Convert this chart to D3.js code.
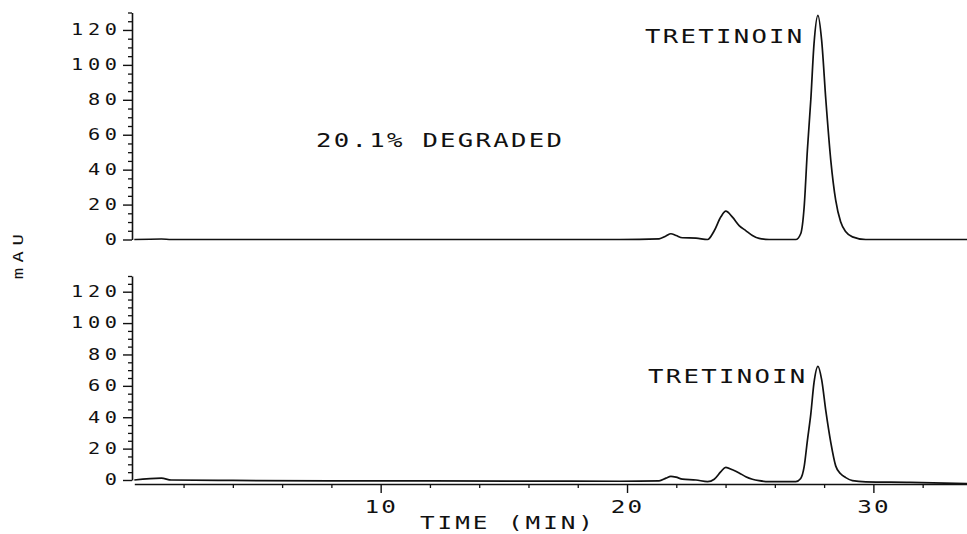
<!DOCTYPE html>
<html>
<head>
<meta charset="utf-8">
<script src="https://cdn.jsdelivr.net/npm/d3@7/dist/d3.min.js"></script>
<style>
  html, body { margin: 0; padding: 0; background: #fff; }
  svg { display: block; }
  text { font-family: "DejaVu Sans Mono", "Liberation Mono", monospace; fill: #111;
         font-variant-numeric: slashed-zero; font-feature-settings: "zero" 1; }
</style>
</head>
<body>
<svg id="chart" width="967" height="534"></svg>
<script>
// ---- data ----
const timeMin = [0, 1.1, 1.5, 4, 8, 12, 16, 19.7, 21.3, 21.58, 21.78, 21.99, 22.25, 22.8, 23.27,
  23.54, 23.81, 24.01, 24.28, 24.55, 24.82, 25.09, 25.36, 25.77, 26.85, 27.05, 27.19, 27.32,
  27.46, 27.59, 27.75, 27.9, 28.07, 28.27, 28.47, 28.67, 28.88, 29.15, 29.69, 31.5, 33.8];

const topSignal = [0, 0.3, 0, 0, 0, 0, 0, 0, 0.4, 2, 3.3, 2.3, 1, 0.8, 0,
  5, 13, 16.2, 12.8, 8, 5.1, 2.3, 0.6, 0, 0, 3.3, 18.6, 51,
  80, 112, 128.3, 114, 80, 45.5, 22.5, 10.1, 4.4, 1.5, 0, 0, 0];

const bottomSignal = [0, 1.2, 0, -0.3, -0.5, -0.5, -0.7, -0.8, -0.5, 1.2, 2.3, 1.8, 0.5, 0, -1,
  0.5, 5.3, 8.1, 6.5, 4.5, 2.1, 0.5, -0.4, -1, -1, 1, 8.5, 25,
  42, 62, 72.4, 64, 44, 24, 9, 4, 1.5, -0.4, -1.2, -1.5, -2.3];

const yMajorTicks = [0, 20, 40, 60, 80, 100, 120];
const yMinorTicks = [5, 10, 15, 25, 30, 35, 45, 50, 55, 65, 70, 75, 85, 90, 95, 105, 110, 115, 125, 130];
const xMajorTicks = [10, 20, 30];
const xMinorTicks = [2, 4, 6, 8, 12, 14, 16, 18, 22, 24, 26, 28, 32];

const peakLabel = "TRETINOIN";
const degradedLabel = "20.1% DEGRADED";
const xTitle = "TIME (MIN)";
const yTitle = "mAU";

// ---- layout ----
const svg = d3.select("#chart");
const x = d3.scaleLinear().domain([0, 33.8]).range([134.3, 967]);
const yTop = d3.scaleLinear().domain([0, 130]).range([239.5, 12.5]);
const yBot = d3.scaleLinear().domain([0, 130]).range([480, 276]);

const axisX = 132;
const SX = 1.35; // horizontal stretch to mimic the wide plotter font

function drawYAxis(y) {
  const gMin = svg.append("g").attr("transform", `translate(${axisX},0)`)
    .call(d3.axisLeft(y).tickValues(yMinorTicks).tickSize(4).tickSizeOuter(0).tickFormat(""));
  gMin.select(".domain").attr("stroke", "#111").attr("stroke-width", 1.6);
  gMin.selectAll(".tick line").attr("stroke", "#111").attr("stroke-width", 1.3);

  const gMaj = svg.append("g").attr("transform", `translate(${axisX},0)`)
    .call(d3.axisLeft(y).tickValues(yMajorTicks).tickSize(9).tickSizeOuter(0).tickFormat(d3.format("d")));
  gMaj.select(".domain").remove();
  gMaj.selectAll(".tick line").attr("stroke", "#111").attr("stroke-width", 1.4);
  gMaj.selectAll(".tick text")
    .attr("x", -15 / SX + 3.5)
    .attr("transform", `scale(${SX},1)`)
    .attr("font-size", 15)
    .attr("letter-spacing", 3.5)
    .attr("font-family", '"DejaVu Sans Mono", monospace')
    .attr("fill", "#111");
}

drawYAxis(yTop);
drawYAxis(yBot);

// x axis (bottom panel)
const xAxisY = 484;
const gxMin = svg.append("g").attr("transform", `translate(0,${xAxisY})`)
  .call(d3.axisBottom(x).tickValues(xMinorTicks).tickSize(4).tickSizeOuter(0).tickFormat(""));
gxMin.select(".domain").attr("stroke", "#111").attr("stroke-width", 1.6);
gxMin.selectAll(".tick line").attr("stroke", "#111").attr("stroke-width", 1.3);

const gxMaj = svg.append("g").attr("transform", `translate(0,${xAxisY})`)
  .call(d3.axisBottom(x).tickValues(xMajorTicks).tickSize(9).tickSizeOuter(0).tickFormat(d3.format("d")));
gxMaj.select(".domain").remove();
gxMaj.selectAll(".tick line").attr("stroke", "#111").attr("stroke-width", 1.4);
gxMaj.selectAll(".tick text")
  .attr("y", 16)
  .attr("transform", `scale(${SX},1)`)
  .attr("font-size", 18)
  .attr("letter-spacing", 1.5)
  .attr("font-family", '"DejaVu Sans Mono", monospace')
  .attr("fill", "#111");

// traces
const topData = timeMin.map((t, i) => [t, topSignal[i]]);
const botData = timeMin.map((t, i) => [t, bottomSignal[i]]);

svg.append("path")
  .datum(topData)
  .attr("fill", "none").attr("stroke", "#111").attr("stroke-width", 1.7)
  .attr("d", d3.line().x(d => x(d[0])).y(d => yTop(d[1])).curve(d3.curveMonotoneX));

svg.append("path")
  .datum(botData)
  .attr("fill", "none").attr("stroke", "#111").attr("stroke-width", 1.7)
  .attr("d", d3.line().x(d => x(d[0])).y(d => yBot(d[1])).curve(d3.curveMonotoneX));

// annotations
function label(txt, xx, yy, fs, ls) {
  svg.append("text")
    .attr("transform", `translate(${xx},${yy}) scale(${SX},1)`)
    .attr("font-size", fs).attr("letter-spacing", ls).text(txt);
}
label(peakLabel, 645, 43, 19, 1.7);
label(degradedLabel, 316, 147, 19, 1.7);
label(peakLabel, 648, 383, 19, 1.7);
label(xTitle, 420, 529, 18, 2.2);

svg.append("text")
  .attr("transform", `translate(23,254) rotate(-90) scale(${SX},1)`)
  .attr("text-anchor", "middle")
  .attr("font-size", 14)
  .attr("letter-spacing", 4)
  .text(yTitle);
</script>
</body>
</html>
